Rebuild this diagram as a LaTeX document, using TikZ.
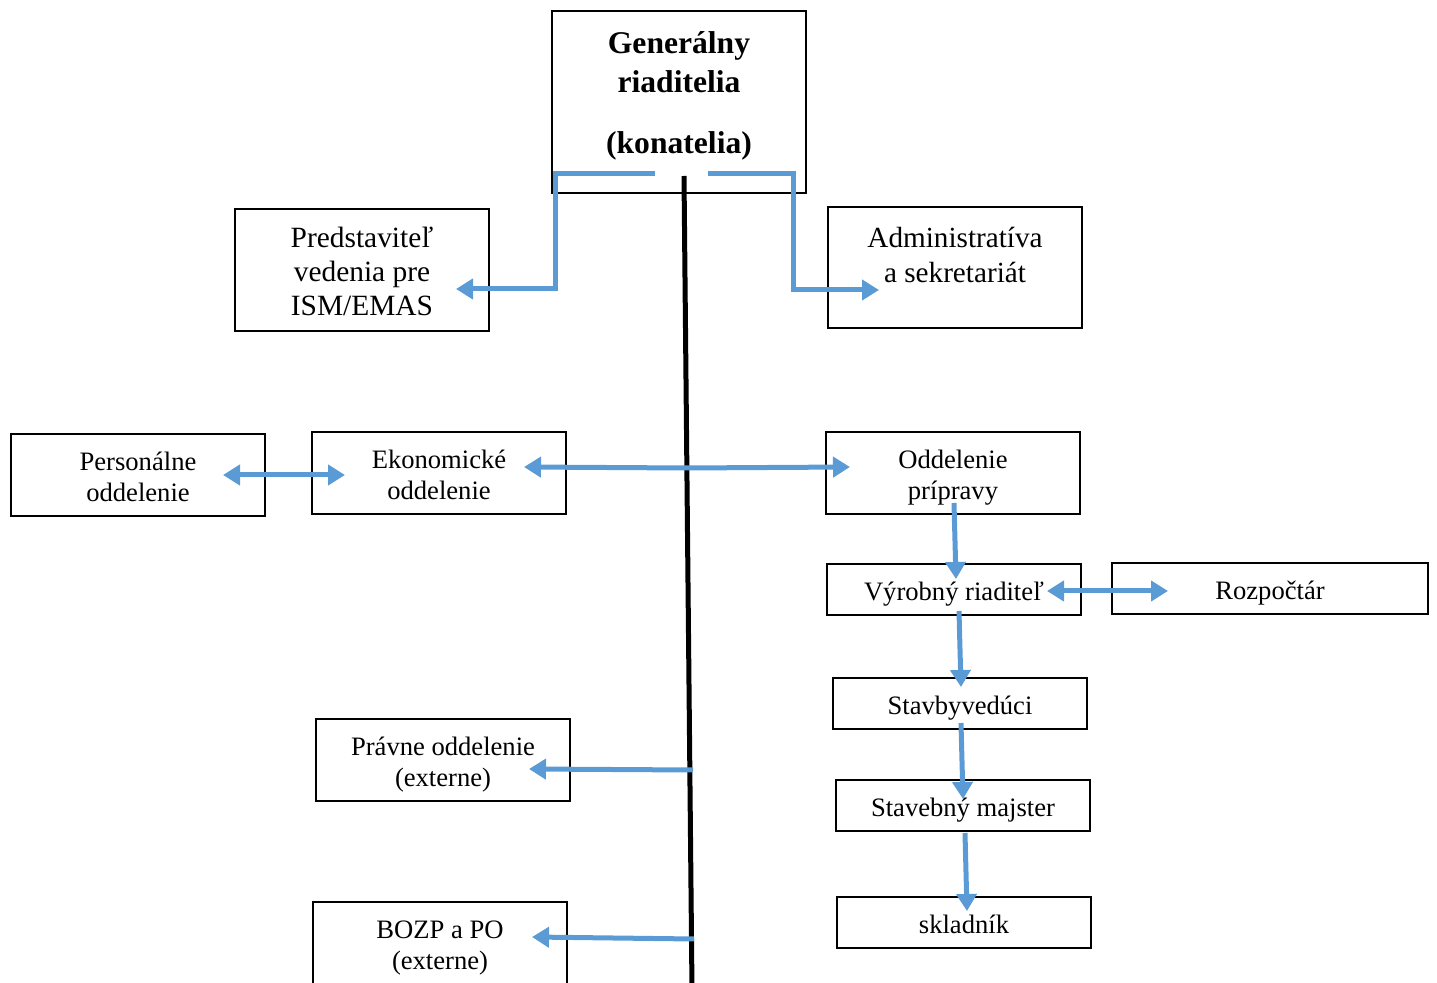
\documentclass[tikz,border=0pt]{standalone}
\usepackage{fontspec}
\setmainfont{Liberation Serif}
\usetikzlibrary{calc,arrows.meta}
\definecolor{orgblue}{RGB}{91,155,213}
\newcommand{\boxtext}[2][-2.2pt]{\raisebox{#1}[\height][\depth]{\begin{tabular}{@{}c@{}}#2\end{tabular}}}

\begin{document}
\begin{tikzpicture}[x=0.5pt, y=-0.5pt,
		box/.style={draw, line width=1pt, inner sep=0pt,
			minimum width=127pt, font=\fontsize{13.3pt}{15.5pt}\selectfont},
		link/.style={draw=orgblue, line width=2.5pt,
			-{Triangle[length=8.5pt,width=10pt]}},
		dlink/.style={link, {Triangle[length=8.5pt,width=10pt]}-{Triangle[length=8.5pt,width=10pt]}},
		spine/.style={line width=2.5pt, black}]
		%%%%% START %%%%%
		
		\useasboundingbox (0, 0) rectangle (1437, 983);
		
		\node[box, minimum height=91pt, font=\fontsize{15.8pt}{19.4pt}\selectfont\bfseries] (gen) at (679, 102)
			{\boxtext[3.2pt]{Generálny\\riaditelia\\[11.2pt](konatelia)}};
		
		\node[box, minimum height=61pt, font=\fontsize{14.7pt}{17pt}\selectfont] (pred) at (362, 270)
			{\boxtext[-2.6pt]{Predstaviteľ\\vedenia pre\\ISM/EMAS}};
		\node[box, minimum height=60.5pt, font=\fontsize{14.6pt}{17.5pt}\selectfont] (adm) at (955, 267.5)
			{\boxtext[4.65pt]{Administratíva\\a sekretariát}};
		
		\node[box, minimum height=41pt] (pers) at (138, 475) {\boxtext{Personálne\\oddelenie}};
		\node[box, minimum height=41pt] (ekon) at (439, 473) {\boxtext{Ekonomické\\oddelenie}};
		\node[box, minimum height=41pt] (prip) at (953, 473) {\boxtext{Oddelenie\\prípravy}};
		
		\node[box, minimum height=25.5pt] (vyr) at (954, 589.5) {\boxtext[-2.65pt]{Výrobný riaditeľ}};
		\node[box, minimum height=25.5pt, minimum width=158pt] (rozp) at (1270, 588.5) {\boxtext[-2.65pt]{Rozpočtár}};
		\node[box, minimum height=25.5pt] (stav) at (960, 703.5) {\boxtext[-2.65pt]{Stavbyvedúci}};
		\node[box, minimum height=25.5pt] (maj) at (963, 805.5) {\boxtext[-2.65pt]{Stavebný majster}};
		\node[box, minimum height=25.5pt] (skl) at (964, 922.5) {\boxtext[-2.65pt]{skladník}};
		
		\node[box, minimum height=41pt] (prav) at (443, 760) {\boxtext[-2.6pt]{Právne oddelenie\\(externe)}};
		\node[box, minimum height=42pt] (bozp) at (440, 944) {\boxtext[-2pt]{BOZP a PO\\(externe)}};
		
		% hlavna os
		\coordinate (top) at (684, 176);
		\coordinate (bot) at (692, 990);
		\draw[spine] (top) -- (bot);
		\coordinate (s1) at (687, 468);
		\coordinate (s2) at (693, 770);
		\coordinate (s3) at (694, 939);
		
		% vedenie
		\draw[link] ($(gen.south)+(-24,-20)$) -- ++(-100, 0) |- ($(pred.east)+(-34,19)$);
		\draw[link] ($(gen.south)+(29,-20)$) -- ++(85, 0) |- ($(adm.west)+(52,22.5)$);
		
		\draw[dlink] ($(pers.east)+(-43,0)$) -- ($(ekon.west)+(34,2)$);
		\draw[link] (s1) -- ($(ekon.east)+(-43,-6)$);
		\draw[link] (s1) -- ($(prip.west)+(25,-6)$);
		
		\draw[link] ($(prip.south)+(1,-12)$) -- ($(vyr.north)+(2,16)$);
		\draw[dlink] ($(vyr.east)+(-35,1.5)$) -- ($(rozp.west)+(57,2.5)$);
		\draw[link] ($(vyr.south)+(5,-5)$) -- ($(stav.north)+(1,10)$);
		\draw[link] ($(stav.south)+(1,-7)$) -- ($(maj.north)+(0,20)$);
		\draw[link] ($(maj.south)+(2,1)$) -- ($(skl.north)+(3,15)$);
		
		\draw[link] (s2) -- ($(prav.east)+(-42,9)$);
		\draw[link] (s3) -- ($(bozp.east)+(-36,-7)$);
		
		%%%%% END %%%%%
	\end{tikzpicture}
\end{document}
